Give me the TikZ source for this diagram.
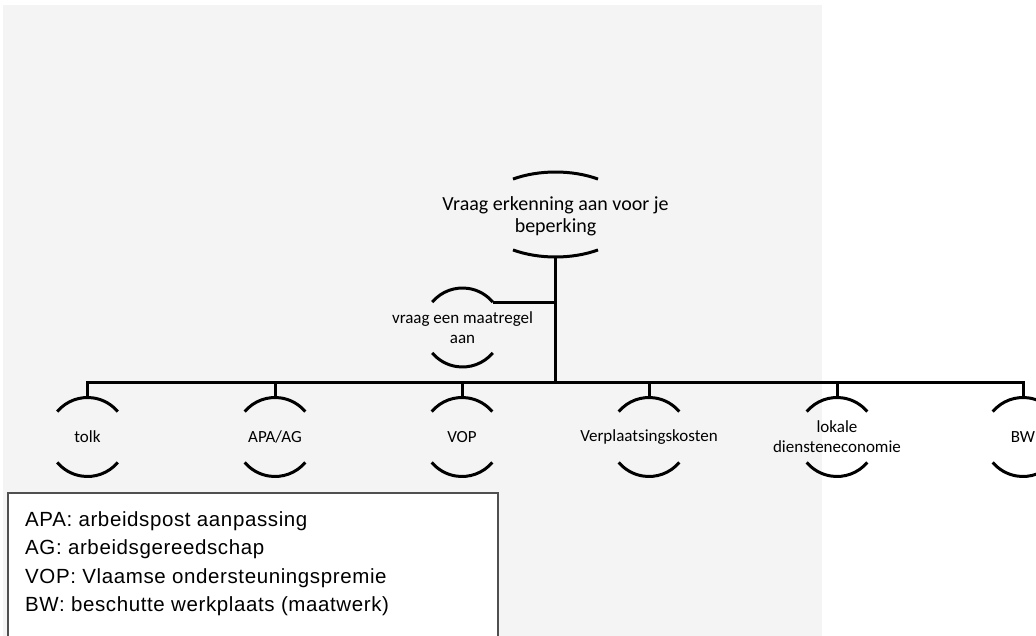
\documentclass[tikz,border=0pt]{standalone}
\usepackage{fontspec}
\setmainfont{Carlito}
\newfontfamily\legendfont[LetterSpace=3]{Liberation Sans}
\usetikzlibrary{calc}
\definecolor{paneGrey}{HTML}{F4F4F4}
\definecolor{frameGrey}{HTML}{505050}

\begin{document}
\begin{tikzpicture}[x=1pt,y=-1pt]

        \useasboundingbox (0,0) rectangle (1036,636);
        \fill[paneGrey] (3,5) rectangle (822,640);

        \begin{scope}[every node/.style={align=center, font=\fontsize{17}{20}\selectfont}]
          \node (root)   at (555.5,216) [font=\fontsize{20}{22}\selectfont] {Vraag erkenning aan voor je\\beperking};
          \node (maat)   at (462.5,327.5) {vraag een maatregel\\aan};
          \node (tolk)   at (87.5,437)  {tolk};
          \node (apa)    at (275,437)   {APA/AG};
          \node (vop)    at (462,437)   {VOP};
          \node (verpl)  at (649,437)   {Verplaatsingskosten};
          \node (lokaal) at (837,437)   {lokale\\diensteneconomie};
          \node (bw)     at (1023,437)  {BW};
        \end{scope}

        \begin{scope}[line width=3pt]
          \coordinate (rootMid) at (555.5,214.5);
          \draw ($(rootMid)+(236.5:77 and 42.5)$) arc[start angle=236.5, end angle=303.5, x radius=77, y radius=42.5];
          \draw ($(rootMid)+(56.5:77 and 42.5)$)  arc[start angle=56.5, end angle=123.5, x radius=77, y radius=42.5];
          \foreach \n in {maat,tolk,apa,vop,verpl,lokaal,bw} {
            \draw ($(\n.center)+(220:39.5)$) arc[start angle=220, end angle=320, radius=39.5];
            \draw ($(\n.center)+(40:39.5)$)  arc[start angle=40, end angle=140, radius=39.5];
          }

          \coordinate (bus)     at (555.5,382);
          \coordinate (maatTop) at ($(maat.center)+(320:39.5)$);
          \draw ($(rootMid)+(0,42.5)$) -- (bus);
          \draw (maatTop) -- (maatTop -| root);
          \draw ($(tolk.center)+(0,-39.5)$) -- (tolk |- bus) -- (bw |- bus) -- ($(bw.center)+(0,-39.5)$);
          \foreach \n in {apa,vop,verpl,lokaal}
            \draw (\n |- bus) -- ($(\n.center)+(0,-39.5)$);
        \end{scope}

        \draw[frameGrey, line width=1.5pt, fill=white] (8,493) rectangle (498,645);
        \begin{scope}[every node/.style={anchor=base west, inner sep=0pt, font=\legendfont\fontsize{20.5}{24}\selectfont}]
          \node (lgApa) at (25,526)   {APA: arbeidspost aanpassing};
          \node (lgAg)  at (25,554.5) {AG: arbeidsgereedschap};
          \node (lgVop) at (25,583)   {VOP: Vlaamse ondersteuningspremie};
          \node (lgBw)  at (25,611)   {BW: beschutte werkplaats (maatwerk)};
        \end{scope}

      \end{tikzpicture}
\end{document}
